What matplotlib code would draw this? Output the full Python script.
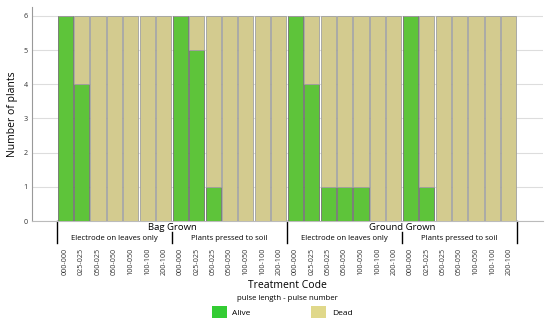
import numpy as np
import matplotlib
matplotlib.use('Agg')
import matplotlib.pyplot as plt
from matplotlib.patches import Patch
import matplotlib.transforms as mtransforms

plt.rcParams['font.family'] = ['Open Sans', 'DejaVu Sans']

codes = ['000-000', '025-025', '050-025', '050-050', '100-050', '100-100', '200-100']
growth = ['Bag Grown', 'Ground Grown']
method = ['Electrode on leaves only', 'Plants pressed to soil']

# alive plants per treatment, in order: bag/electrode, bag/pressed, ground/electrode, ground/pressed
alive = [6, 4, 0, 0, 0, 0, 0,
         6, 5, 1, 0, 0, 0, 0,
         6, 4, 1, 1, 1, 0, 0,
         6, 1, 0, 0, 0, 0, 0]
total = 6
dead = [total - a for a in alive]

green = '#5ec43a'
tan = '#d3cb8f'

fig = plt.figure(figsize=(5.5, 3.29), dpi=100)
ax = fig.add_axes([32 / 550, 1 - 221 / 329, 511 / 550, 214 / 329])

x = np.arange(len(alive))
ax.bar(x, alive, width=0.92, color=green, edgecolor='#707070', linewidth=0.6, zorder=3)
ax.bar(x, dead, bottom=alive, width=0.92, color=tan, edgecolor='#a0a0a0', linewidth=0.6, zorder=3)

ax.set_xlim(-2.02, 29.08)
ax.set_ylim(0, 6.26)
ax.set_yticks(range(0, 7))
ax.tick_params(axis='y', labelsize=5.2, length=0, pad=3, colors='#333333')
ax.set_xticks([])
ax.grid(axis='y', color='#dddddd', linewidth=0.8, zorder=0)
for s in ['top', 'right']:
    ax.spines[s].set_visible(False)
ax.spines['left'].set_color('#999999')
ax.spines['bottom'].set_color('#bbbbbb')
ax.spines['left'].set_linewidth(0.8)
ax.spines['bottom'].set_linewidth(0.8)
ax.set_ylabel('Number of plants', fontsize=7.5, labelpad=4)

tr = mtransforms.blended_transform_factory(ax.transData, fig.transFigure)

def fy(py):
    return 1 - py / 329

# tick labels
for i, c in enumerate(codes * 4):
    ax.text(i, fy(248), c, transform=tr, rotation=90, ha='center', va='top', fontsize=5.2, color='#333333')

# group separators and labels
for g in range(3):
    xe = g * 14 - 0.5
    ax.plot([xe, xe], [fy(221), fy(243)], transform=tr, color='black', lw=1, clip_on=False)
for g in range(2):
    xm = g * 14 + 6.5
    ax.plot([xm, xm], [fy(232), fy(243)], transform=tr, color='black', lw=1, clip_on=False)
    ax.text(g * 14 + 6.5, fy(227), growth[g], transform=tr, ha='center', va='center', fontsize=6.8)
    for m in range(2):
        ax.text(g * 14 + m * 7 + 3, fy(238.5), method[m], transform=tr, ha='center', va='center', fontsize=5.6)

fig.text(287 / 550, fy(285), 'Treatment Code', ha='center', va='center', fontsize=7.5)
fig.text(287 / 550, fy(298), 'pulse length - pulse number', ha='center', va='center', fontsize=5.6)

handles = [Patch(facecolor='#33cc33', edgecolor='none', label='Alive'),
           Patch(facecolor='#e0d88a', edgecolor='none', label='Dead')]
fig.legend(handles=handles, loc='center', bbox_to_anchor=(282 / 550, fy(312)), ncol=2, frameon=False,
           fontsize=6, handlelength=1.8, handleheight=1.8, columnspacing=7.2, handletextpad=0.7)

fig.savefig('out.png', dpi=100)
